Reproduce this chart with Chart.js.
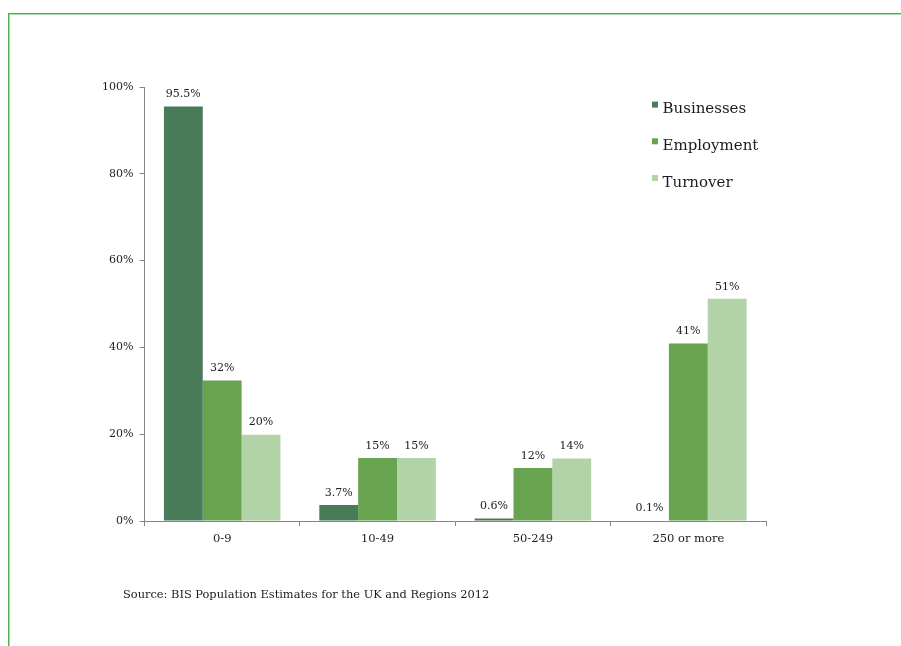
<!DOCTYPE html>
<html>
<head>
<meta charset="utf-8">
<script src="https://cdn.jsdelivr.net/npm/chart.js@4.4.0/dist/chart.umd.min.js"></script>
<style>
  html, body { margin: 0; padding: 0; background: #fff; }
  #wrap { position: relative; width: 901px; height: 646px; overflow: hidden; }
  #frame {
    position: absolute; left: 8px; top: 13px; width: 900px; height: 640px;
    border-top: 1px solid #4fae4f; border-left: 1px solid #4fae4f;
    box-shadow: inset 1px 1px 0 #a8dca8; pointer-events: none;
  }
  canvas { position: absolute; left: 0; top: 0; }
</style>
</head>
<body>
<div id="wrap">
  <canvas id="sizeChart" width="901" height="646"></canvas>
  <div id="frame"></div>
</div>
<script>
// categories and series
const categories = ['0-9', '10-49', '50-249', '250 or more'];
const businesses = [95.5, 3.7, 0.6, 0.1];
const employment = [32.4, 14.5, 12.2, 40.9];
const turnover = [19.9, 14.5, 14.4, 51.2];
const businessLabels = ['95.5%', '3.7%', '0.6%', '0.1%'];
const employmentLabels = ['32%', '15%', '12%', '41%'];
const turnoverLabels = ['20%', '15%', '14%', '51%'];
const yTicks = [0, 20, 40, 60, 80, 100];
const sourceText = 'Source: BIS Population Estimates for the UK and Regions 2012';

const textColor = '#1c1c1c';
const axisColor = '#858585';

// value labels above each bar
const barLabels = {
    id: 'barLabels',
    afterDatasetsDraw(chart) {
        const ctx = chart.ctx;
        ctx.save();
        ctx.font = '11px "DejaVu Serif"';
        ctx.fillStyle = textColor;
        ctx.textAlign = 'center';
        ctx.textBaseline = 'middle';
        chart.data.datasets.forEach((ds, i) => {
            chart.getDatasetMeta(i).data.forEach((bar, j) => {
                ctx.fillText(ds.valueLabels[j], bar.x, bar.y - 12);
            });
        });
        ctx.restore();
    }
};

// vertical legend at top right + source note
const sideLegend = {
    id: 'sideLegend',
    afterDraw(chart) {
        const ctx = chart.ctx;
        ctx.save();
        ctx.font = '15px "DejaVu Serif"';
        ctx.textBaseline = 'alphabetic';
        ctx.textAlign = 'left';
        chart.data.datasets.forEach((ds, i) => {
            const base = 113.3 + i * 36.7;
            ctx.fillStyle = ds.backgroundColor;
            ctx.fillRect(652, base - 11.7, 6, 6);
            ctx.fillStyle = textColor;
            ctx.fillText(ds.label, 662.5, base);
        });
        ctx.font = '11.4px "DejaVu Serif"';
        ctx.fillText(sourceText, 123, 598);
        ctx.restore();
    }
};

const ctx = document.getElementById('sizeChart').getContext('2d');
const sizeChart = new Chart(ctx, {
    type: 'bar',
    data: {
        labels: categories,
        datasets: [
            { label: 'Businesses', data: businesses, valueLabels: businessLabels, backgroundColor: '#4a7b58' },
            { label: 'Employment', data: employment, valueLabels: employmentLabels, backgroundColor: '#68a350' },
            { label: 'Turnover', data: turnover, valueLabels: turnoverLabels, backgroundColor: '#b2d3a7' }
        ]
    },
    options: {
        responsive: false,
        animation: false,
        layout: { padding: { left: 0, right: 135, top: 87, bottom: 95 } },
        datasets: {
            bar: { barPercentage: 1, categoryPercentage: 0.75, borderWidth: 0 }
        },
        plugins: {
            legend: { display: false },
            tooltip: { enabled: false }
        },
        scales: {
            x: {
                grid: { drawOnChartArea: false, drawTicks: true, tickLength: 5, color: axisColor, offset: true },
                border: { color: axisColor, width: 1 },
                ticks: { color: textColor, font: { family: 'DejaVu Serif', size: 11.5 }, padding: 6 },
                afterFit(scale) { scale.height = 30; }
            },
            y: {
                min: 0,
                max: 100,
                afterBuildTicks(scale) { scale.ticks = yTicks.map(v => ({ value: v })); },
                grid: { drawOnChartArea: false, drawTicks: true, tickLength: 5, color: axisColor },
                border: { color: axisColor, width: 1 },
                ticks: {
                    color: textColor,
                    font: { family: 'DejaVu Serif', size: 11 },
                    padding: 6,
                    callback: v => v + '%'
                },
                afterFit(scale) { scale.width = 144.5; }
            }
        }
    },
    plugins: [barLabels, sideLegend]
});
</script>
</body>
</html>
